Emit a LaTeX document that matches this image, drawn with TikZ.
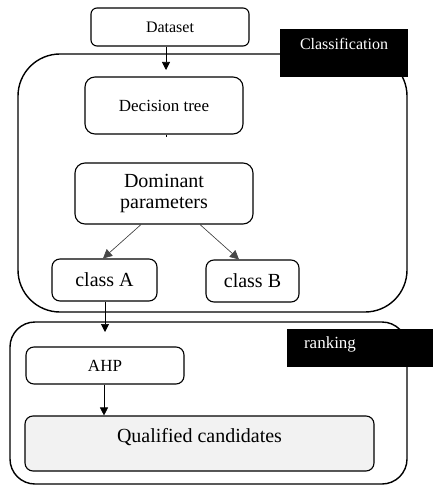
\documentclass[tikz,border=0pt]{standalone}
\usepackage{fontspec}
\setmainfont{Liberation Serif}
\usetikzlibrary{arrows.meta}
\begin{document}
\begin{tikzpicture}[x=1pt,y=-1pt,
  box/.style={draw, line width=1.1pt, rounded corners=8pt, inner sep=0pt, align=center},
  outer/.style={draw, line width=1.4pt, inner sep=0pt},
  tag/.style={fill=black, draw=none, inner sep=0pt},
  tagtext/.style={text=white, inner sep=0pt},
  arr/.style={-{Triangle[length=8pt,width=8pt]}, line width=0.7pt},
  darr/.style={-{Triangle[length=9pt,width=9pt]}, line width=0.6pt, draw=gray!55!black, fill=black},
  fA/.style={font=\fontsize{16}{19}\selectfont},
  fB/.style={font=\fontsize{17}{20}\selectfont},
  fC/.style={font=\fontsize{20}{23}\selectfont}]
\useasboundingbox (0,0) rectangle (433,486);
\fill[white] (0,0) rectangle (433,486);
% classification group
\node[outer, rounded corners=42pt, minimum width=389pt, minimum height=258pt] (cls) at (212.5,183) {};
\node[tag, minimum width=128pt, minimum height=48pt] (clsbar) at (344,53) {};
\node[tagtext, fA] (clstxt) at (344,44) {Classification};
% ranking group
\node[outer, rounded corners=25pt, minimum width=397pt, minimum height=162pt] (rank) at (208.5,403) {};
\node[tag, minimum width=146pt, minimum height=38pt] (rankbar) at (360,348) {};
\node[tagtext, fB] (ranktxt) at (330,344) {ranking};
% boxes
\node[box, rounded corners=6pt, fA, minimum width=158pt, minimum height=38pt] (data) at (170,27) {Dataset};
\node[box, rounded corners=10pt, fB, minimum width=158pt, minimum height=57pt] (dt) at (164,105.5) {Decision tree};
\node[box, rounded corners=10pt, fC, minimum width=178pt, minimum height=61pt] (dom) at (164,193.5) {Dominant\\[-2pt]parameters};
\node[box, fC, minimum width=105pt, minimum height=42pt] (ca) at (104.5,280) {class A};
\node[box, fC, minimum width=93pt, minimum height=42pt] (cb) at (252.5,281) {class B};
\node[box, fB, minimum width=158pt, minimum height=37pt] (ahp) at (105,365.5) {AHP};
\node[box, fC, fill=gray!10, minimum width=349pt, minimum height=55pt, text height=14pt, text depth=16pt] (q) at (199.5,443.5) {Qualified candidates};
% connectors
\coordinate (dtin) at (166,70);
\draw[arr] (dtin |- data.south) -- (dtin);
\coordinate (dtt) at (166,137);
\draw[line width=0.5pt] (dtt |- dt.south) -- (dtt);
\draw[darr] ([xshift=-23pt]dom.south) -- ([xshift=-1.5pt]ca.north);
\draw[darr] ([xshift=36pt]dom.south) -- ([xshift=-13.5pt]cb.north);
\coordinate (rin) at (105,332);
\draw[arr] (rin |- ca.south) -- (rin);
\draw[arr] ([xshift=-1pt]ahp.south) -- ([xshift=-1pt]ahp.south |- q.north);
\end{tikzpicture}
\end{document}
